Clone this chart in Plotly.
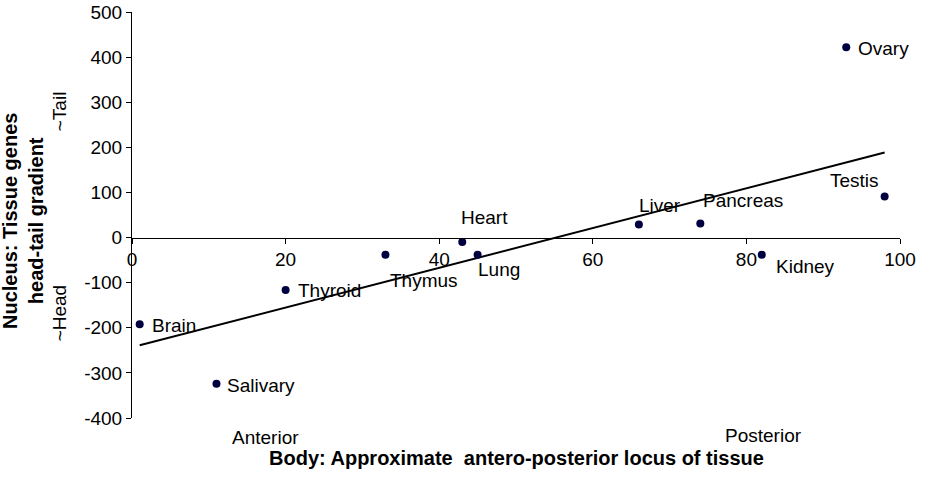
import numpy as np
import plotly.graph_objects as go

tissues = ["Brain", "Salivary", "Thyroid", "Thymus", "Heart", "Lung",
           "Liver", "Pancreas", "Kidney", "Testis", "Ovary"]
locus = [1, 11, 20, 33, 43, 45, 66, 74, 82, 98, 93]
gradient = [-192, -324, -116, -38, -10, -38, 29, 31, -38, 91, 422]

x_ticks = [0, 20, 40, 60, 80, 100]
y_ticks = [-400, -300, -200, -100, 0, 100, 200, 300, 400, 500]
y_tick_text = ["-400", "-300", "-200", "-100", "0", "100", "200", "300", "400", "500"]

# label placement (style): xanchor, xshift, yshift
label_pos = {
    "Brain": ("left", 10, -1),
    "Salivary": ("left", 9, -2),
    "Thyroid": ("left", 10, -1),
    "Thymus": ("left", 3, -26),
    "Heart": ("left", -3, 25),
    "Lung": ("left", -2, -15),
    "Liver": ("left", -2, 19),
    "Pancreas": ("left", 1, 23),
    "Kidney": ("left", 12, -12),
    "Testis": ("right", -4, 16),
    "Ovary": ("left", 10, -1),
}

FONT = "Liberation Sans, Arial, sans-serif"
FS = 19

slope, intercept = np.polyfit(locus, gradient, 1)
xl = np.array([min(locus), max(locus)])
yl = slope * xl + intercept

fig = go.Figure()
fig.add_trace(go.Scatter(x=xl, y=yl, mode="lines",
                         line=dict(color="black", width=2), hoverinfo="skip"))
fig.add_trace(go.Scatter(x=locus, y=gradient, mode="markers",
                         marker=dict(color="#000040", size=8), text=tissues))

annotations = []
for t, xv, yv in zip(tissues, locus, gradient):
    anc, xs, ys = label_pos[t]
    annotations.append(dict(x=xv, y=yv, xref="x", yref="y", text=t,
                            showarrow=False, xanchor=anc, yanchor="middle",
                            xshift=xs, yshift=ys,
                            font=dict(family=FONT, size=FS, color="black")))

annotations += [
    dict(text="<b>Nucleus: Tissue genes<br>head-tail gradient</b>", textangle=-90,
         xref="paper", yref="paper", x=0, y=0.5, xshift=-109, yshift=-6,
         showarrow=False, xanchor="center", yanchor="middle",
         font=dict(family=FONT, size=20, color="black")),
    dict(text="~Tail", textangle=-90, xref="paper", yref="y", x=0, y=280,
         xshift=-73, showarrow=False, xanchor="center", yanchor="middle",
         font=dict(family=FONT, size=FS, color="black")),
    dict(text="~Head", textangle=-90, xref="paper", yref="y", x=0, y=-168,
         xshift=-73, showarrow=False, xanchor="center", yanchor="middle",
         font=dict(family=FONT, size=FS, color="black")),
    dict(text="Anterior", xref="x", yref="paper", x=17.4, y=0, yshift=-19,
         showarrow=False, xanchor="center", yanchor="middle",
         font=dict(family=FONT, size=FS, color="black")),
    dict(text="Posterior", xref="x", yref="paper", x=82.2, y=0, yshift=-17,
         showarrow=False, xanchor="center", yanchor="middle",
         font=dict(family=FONT, size=FS, color="black")),
    dict(text="<b>Body: Approximate  antero-posterior locus of tissue</b>",
         xref="x", yref="paper", x=50, y=0, yshift=-40, showarrow=False,
         xanchor="center", yanchor="middle",
         font=dict(family=FONT, size=20, color="black")),
]

fig.update_layout(
    width=926, height=480,
    margin=dict(l=132, r=26, t=12, b=62, autoexpand=False),
    paper_bgcolor="white", plot_bgcolor="white",
    showlegend=False,
    font=dict(family=FONT, size=FS, color="black"),
    annotations=annotations,
    xaxis=dict(range=[0, 100], tickvals=x_ticks, ticks="outside", ticklen=5,
               tickcolor="black", showline=True, linecolor="black", linewidth=1,
               showgrid=False, zeroline=False, anchor="free", position=4 / 9,
               automargin=False,
               tickfont=dict(family=FONT, size=FS, color="black")),
    yaxis=dict(range=[-400, 500], tickvals=y_ticks, ticktext=y_tick_text,
               ticks="outside", ticklen=5,
               tickcolor="black", showline=True, linecolor="black", linewidth=1,
               showgrid=False, zeroline=False, automargin=False,
               tickfont=dict(family=FONT, size=FS, color="black")),
)

fig.write_html("out.html", config={"displayModeBar": False},
               post_script="document.body.style.margin='0';document.body.style.overflow='hidden';")
